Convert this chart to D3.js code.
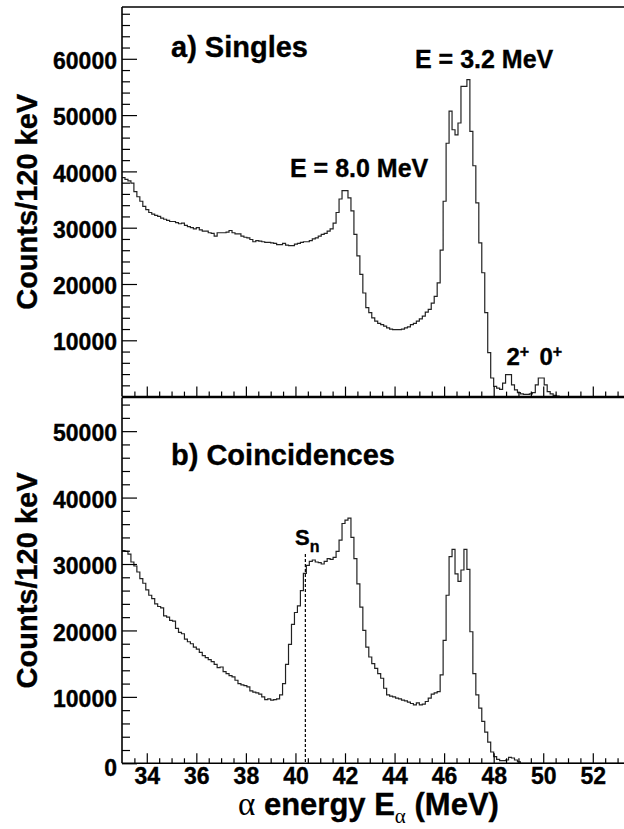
<!DOCTYPE html>
<html>
<head>
<meta charset="utf-8">
<script src="https://cdn.jsdelivr.net/npm/d3@7"></script>
<style>
body { margin: 0; background: #fff; }
svg { display: block; font-family: "Liberation Sans", Arial, Helvetica, sans-serif; font-weight: bold; }
svg text { stroke: #000; stroke-width: 0.35px; }
</style>
</head>
<body>
<svg id="chart" width="624" height="829"></svg>
<script>
// histogram binning (120 keV bins starting at 33 MeV)
var binStart = 33.0,
    binWidth = 0.12;

// a) singles spectrum, counts per bin
var singles = [
    38900, 38600, 38300, 37900, 36400, 35500, 34700, 33800, 33200, 32700,
    32400, 32200, 32000, 31700, 31500, 31300, 31100, 31100, 30900, 30700,
    30800, 30400, 30200, 30000, 29800, 30000, 29600, 29400, 29400, 29100,
    29000, 28500, 29100, 29100, 29100, 29200, 29500, 29100, 28900, 28900,
    28500, 28300, 28200, 27900, 27500, 27700, 27600, 27500, 27400, 27400,
    27300, 27200, 27000, 27000, 27200, 26900, 26800, 26800, 27100, 27200,
    27400, 27500, 27500, 27700, 28000, 28200, 28500, 28800, 29000, 29400,
    29800, 30800, 32700, 35100, 36600, 36600, 35300, 33000, 28800, 25000,
    21700, 18400, 15800, 14900, 14000, 13400, 13000, 12800, 12500, 12200,
    12000, 11900, 11900, 11900, 12000, 12200, 12400, 12800, 13000, 13400,
    13800, 14300, 15000, 15500, 16600, 17800, 20200, 26000, 34700, 45000,
    50700, 47400, 46500, 48600, 55100, 55100, 56300, 47100, 41000, 34400,
    27300, 22000, 14900, 7800, 3300, 1800, 1500, 1300, 2400, 3900,
    3900, 2100, 1200, 700, 500, 400, 400, 500, 700, 2100,
    3300, 3300, 2100, 900, 500, 200, 100, 0, 0, 0,
    0, 0, 0, 0, 0, 0, 0, 0, 0, 0,
    0, 0, 0, 0, 0, 0, 0, 0, 0, 0
];

// b) coincidence spectrum, counts per bin
var coincidences = [
    32000, 31900, 31500, 30300, 29700, 28800, 27800, 27100, 26100, 25300,
    24800, 24000, 23600, 23400, 22200, 22000, 21500, 21400, 20300, 19700,
    19500, 18700, 18300, 18000, 17500, 17200, 16700, 16200, 15900, 15600,
    15300, 14900, 14400, 14500, 13800, 13500, 13200, 13000, 12500, 12000,
    11800, 11700, 11500, 10900, 10700, 10600, 10400, 10000, 9600, 9700,
    9500, 9600, 9700, 10300, 12000, 14900, 17900, 20900, 22700, 23700,
    26000, 28600, 29800, 30400, 30600, 30300, 30200, 30000, 30400, 30800,
    30700, 31000, 31900, 33600, 36100, 36600, 36900, 34000, 30800, 27000,
    23500, 20000, 17500, 16000, 15000, 14300, 13500, 12800, 11300, 10300,
    10100, 10000, 9800, 9700, 9500, 9400, 9200, 9000, 8800, 9100,
    8800, 8900, 9300, 9800, 10400, 10600, 10800, 13300, 18500, 25300,
    31100, 32200, 28500, 27400, 29100, 32200, 29200, 19800, 13500, 10300,
    8300, 6300, 4700, 3200, 1700, 1000, 600, 400, 400, 500,
    900, 800, 500, 200, 0, 0, 0, 0, 0, 0,
    0, 0, 0, 0, 0, 0, 0, 0, 0, 0,
    0, 0, 0, 0, 0, 0, 0, 0, 0, 0,
    0, 0, 0, 0, 0, 0, 0, 0, 0, 0
];

var xTickValues = [34, 36, 38, 40, 42, 44, 46, 48, 50, 52];
var singlesYTicks = [10000, 20000, 30000, 40000, 50000, 60000];
var coincYTicks = [0, 10000, 20000, 30000, 40000, 50000];
var snEnergy = 40.4;

var svg = d3.select("#chart");

var x = d3.scaleLinear()
    .domain([33, 53.3])
    .range([122, 625]);

var yTop = d3.scaleLinear()
    .domain([0, 69200])
    .range([396.6, 7]);

var yBottom = d3.scaleLinear()
    .domain([0, 55050])
    .range([763.3, 397.6]);

var lineColor = "#222";

function drawPanel(y, data, majorTicks, showLabels, clipId) {
    var top = y.range()[1],
        bottom = y.range()[0],
        left = x.range()[0],
        right = x.range()[1];

    svg.append("clipPath")
        .attr("id", clipId)
        .append("rect")
        .attr("x", left)
        .attr("y", top)
        .attr("width", right - left)
        .attr("height", bottom - top);

    // histogram as a step line
    var pts = data.map(function(v, i) { return [binStart + i * binWidth, v]; });
    pts.push([binStart + data.length * binWidth, data[data.length - 1]]);

    var line = d3.line()
        .x(function(d) { return x(d[0]); })
        .y(function(d) { return y(d[1]); })
        .curve(d3.curveStepAfter);

    svg.append("path")
        .attr("clip-path", "url(#" + clipId + ")")
        .attr("d", line(pts))
        .attr("fill", "none")
        .attr("stroke", lineColor)
        .attr("stroke-width", 1.2);

    // minor ticks
    var yMinor = d3.range(0, y.domain()[1], 2000).filter(function(v) {
        return v % 10000 !== 0;
    });
    var xMinor = d3.range(33.5, 53.3, 0.5).filter(function(v) {
        return v % 2 !== 0;
    });

    svg.append("g")
        .attr("transform", "translate(" + left + ",0)")
        .call(d3.axisLeft(y).tickValues(yMinor).tickSize(-8).tickFormat(""))
        .call(function(g) { g.select(".domain").remove(); });

    var yAxis = svg.append("g")
        .attr("class", "y axis")
        .attr("transform", "translate(" + left + ",0)")
        .call(d3.axisLeft(y).tickValues(majorTicks).tickSize(-15).tickPadding(5)
            .tickFormat(d3.format("d")));
    yAxis.select(".domain").remove();
    yAxis.selectAll("text")
        .attr("dy", function(d) { return d === 0 ? "0.55em" : "0.42em"; })
        .attr("font-size", 23)
        .attr("font-family", "Liberation Sans, Arial, sans-serif")
        .attr("font-weight", "bold")
        .attr("fill", "#000");

    svg.append("g")
        .attr("transform", "translate(0," + bottom + ")")
        .call(d3.axisBottom(x).tickValues(xMinor).tickSize(-5).tickFormat(""))
        .call(function(g) { g.select(".domain").remove(); });

    var xAxis = svg.append("g")
        .attr("class", "x axis")
        .attr("transform", "translate(0," + bottom + ")")
        .call(d3.axisBottom(x).tickValues(xTickValues).tickSize(-10).tickPadding(4)
            .tickFormat(showLabels ? d3.format("d") : ""));
    xAxis.select(".domain").remove();
    xAxis.selectAll("text")
        .attr("font-size", 23)
        .attr("font-family", "Liberation Sans, Arial, sans-serif")
        .attr("font-weight", "bold")
        .attr("fill", "#000");

    svg.selectAll(".tick line")
        .attr("stroke", "#000")
        .attr("stroke-width", 1.2);

    // frame lines
    svg.append("line")
        .attr("x1", left).attr("x2", right)
        .attr("y1", bottom).attr("y2", bottom)
        .attr("stroke", "#000").attr("stroke-width", 1.6);
    svg.append("line")
        .attr("x1", left).attr("x2", right)
        .attr("y1", top).attr("y2", top)
        .attr("stroke", "#000").attr("stroke-width", 1.4);
    svg.append("line")
        .attr("x1", left).attr("x2", left)
        .attr("y1", top).attr("y2", bottom)
        .attr("stroke", "#000").attr("stroke-width", 1.6);

    // y title
    svg.append("text")
        .attr("transform", "translate(37," + ((top + bottom) / 2) + ") rotate(-90)")
        .attr("text-anchor", "middle")
        .attr("font-size", 29)
        .text("Counts/120 keV");
}

drawPanel(yTop, singles, singlesYTicks, false, "clipTop");
drawPanel(yBottom, coincidences, coincYTicks, true, "clipBottom");

// labels in panel a
svg.append("text").attr("x", 171).attr("y", 57).attr("font-size", 29).text("a) Singles");
svg.append("text").attr("x", 290).attr("y", 177).attr("font-size", 25).text("E = 8.0 MeV");
svg.append("text").attr("x", 415).attr("y", 68).attr("font-size", 25).text("E = 3.2 MeV");

var jp = [{t: "2", x: 506.5}, {t: "0", x: 539.5}];
jp.forEach(function(d) {
    var t = svg.append("text").attr("x", d.x).attr("y", 365).attr("font-size", 24);
    t.append("tspan").text(d.t);
    t.append("tspan").attr("dy", -8).attr("font-size", 16).text("+");
});

// labels in panel b
svg.append("text").attr("x", 171).attr("y", 465).attr("font-size", 29).text("b) Coincidences");

var snText = svg.append("text").attr("x", 295).attr("y", 545).attr("font-size", 22);
snText.append("tspan").text("S");
snText.append("tspan").attr("dy", 7).attr("font-size", 16).text("n");

svg.append("line")
    .attr("x1", x(snEnergy)).attr("x2", x(snEnergy))
    .attr("y1", 554).attr("y2", yBottom(0))
    .attr("stroke", "#000")
    .attr("stroke-width", 1.2)
    .attr("stroke-dasharray", "3,2");

// x title
var xTitle = svg.append("text").attr("x", 238).attr("y", 815).attr("font-size", 31);
xTitle.append("tspan")
    .attr("font-family", "Liberation Serif, DejaVu Serif, serif")
    .attr("font-weight", "normal")
    .attr("stroke-width", 0)
    .attr("font-size", 33)
    .text("\u03b1");
xTitle.append("tspan").text(" energy E");
xTitle.append("tspan")
    .attr("font-family", "Liberation Serif, DejaVu Serif, serif")
    .attr("font-weight", "normal")
    .attr("stroke-width", 0)
    .attr("font-size", 21)
    .attr("dy", 8)
    .text("\u03b1");
xTitle.append("tspan").attr("dy", -8).text(" (MeV)");
</script>
</body>
</html>
